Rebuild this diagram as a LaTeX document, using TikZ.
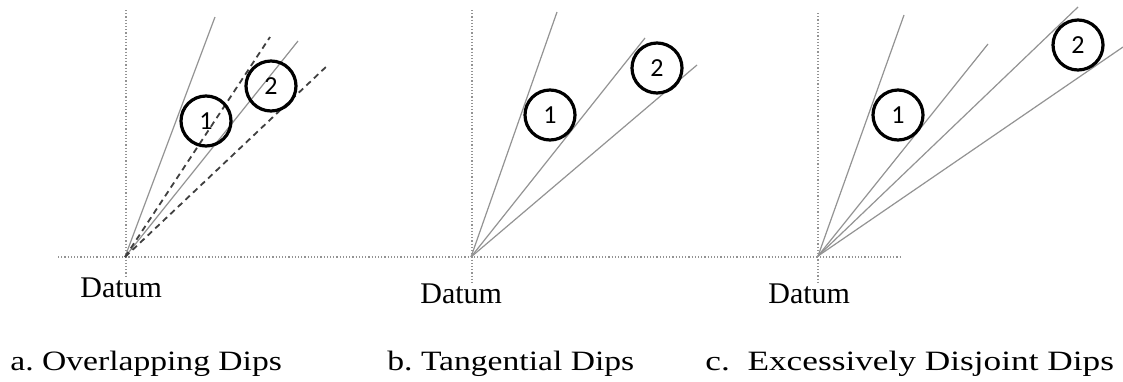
\documentclass[tikz,border=0pt]{standalone}
\usepackage{fontspec}
\usepackage{graphicx}
\setmainfont{Liberation Serif}
\newfontfamily\numfont{Carlito}
\frenchspacing
\begin{document}
\begin{tikzpicture}[x=0.5pt,y=-0.5pt,
  axis/.style={gray!85, line width=0.6pt, densely dotted},
  ray/.style={gray!85, line width=0.6pt},
  dashray/.style={black!75, line width=0.9pt, dash pattern=on 3pt off 2.2pt},
  dip/.style={circle, draw=black, line width=1.6pt, minimum size=25pt, inner sep=0pt, font=\numfont\fontsize{13}{13}\selectfont},
  datum/.style={anchor=base west, inner sep=0pt, font=\fontsize{15}{15}\selectfont},
  captext/.style={anchor=base west, inner sep=0pt, font=\fontsize{14}{14}\selectfont}]
\useasboundingbox (0,0) rectangle (1123,381);
\fill[white] (0,0) rectangle (1123,381);
% axes
\coordinate (hL) at (58,257);
\coordinate (hR) at (902,257);
\draw[axis] (hL) -- (hR);
\coordinate (va1) at (126,10);  \coordinate (va2) at (126,278);
\coordinate (vb1) at (472,10);  \coordinate (vb2) at (472,284);
\coordinate (vc1) at (818,13);  \coordinate (vc2) at (818,284);
\draw[axis] (va1) -- (va2);
\draw[axis] (vb1) -- (vb2);
\draw[axis] (vc1) -- (vc2);
% panel a
\coordinate (Oa) at (125,257);
\coordinate (a1) at (215,17);
\coordinate (a2) at (270,37);
\coordinate (a3) at (298,41);
\coordinate (a4) at (328,65);
\draw[ray] (Oa) -- (a1);
\draw[ray] (Oa) -- (a3);
\draw[dashray] (Oa) -- (a2);
\draw[dashray] (Oa) -- (a4);
\node[dip] (ca1) at (206,121) {1};
\node[dip] (ca2) at (271,86) {2};
% panel b
\coordinate (Ob) at (471,257);
\coordinate (b1) at (557,12);
\coordinate (b2) at (645,38);
\coordinate (b3) at (697,65);
\draw[ray] (Ob) -- (b1);
\draw[ray] (Ob) -- (b2);
\draw[ray] (Ob) -- (b3);
\node[dip] (cb1) at (550,115) {1};
\node[dip] (cb2) at (657,68) {2};
% panel c
\coordinate (Oc) at (818,256);
\coordinate (c1) at (904,15);
\coordinate (c2) at (988,44);
\coordinate (c3) at (1078,7);
\coordinate (c4) at (1123,47);
\draw[ray] (Oc) -- (c1);
\draw[ray] (Oc) -- (c2);
\draw[ray] (Oc) -- (c3);
\draw[ray] (Oc) -- (c4);
\node[dip] (cc1) at (898,115) {1};
\node[dip] (cc2) at (1078,45) {2};
% datum labels
\node[datum] (da) at (80,297) {Datum};
\node[datum] (db) at (420,303) {Datum};
\node[datum] (dc) at (768,303) {Datum};
% captions
\node[captext] (ta) at (10,370) {\scalebox{1.2}[1]{a. Overlapping Dips}};
\node[captext] (tb) at (387,370) {\scalebox{1.2}[1]{b. Tangential Dips}};
\node[captext] (tc) at (705,370) {\scalebox{1.26}[1]{c.\ \ Excessively Disjoint Dips}};
\end{tikzpicture}
\end{document}
